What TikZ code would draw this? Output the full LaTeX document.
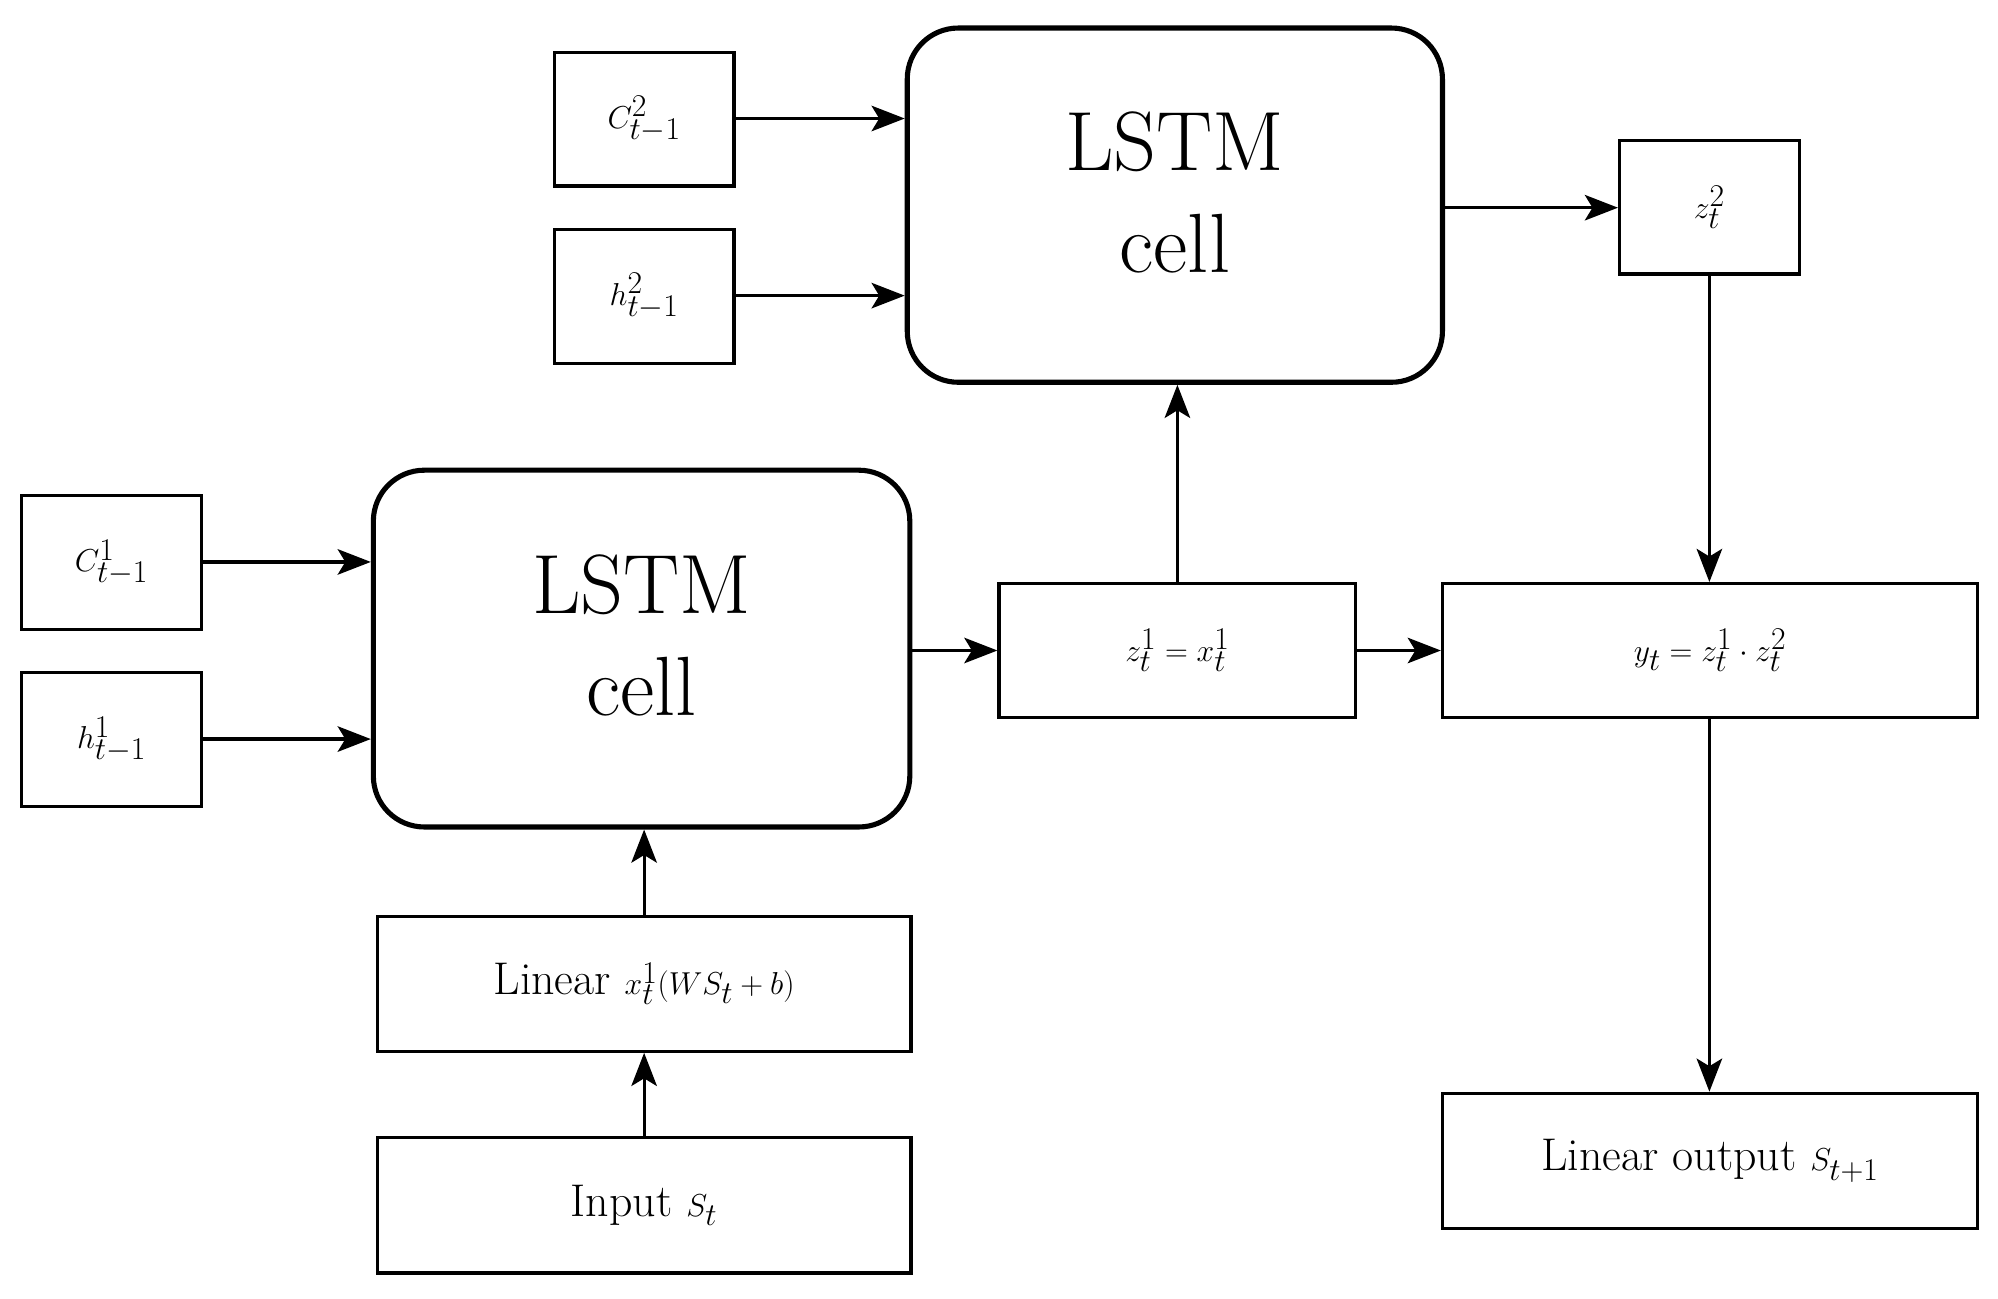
\documentclass[tikz,border=0pt]{standalone}
\usetikzlibrary{arrows.meta,calc}
\begin{document}
\begin{tikzpicture}[x=1pt,y=-1pt,
 box/.style={draw,line width=2.5pt,inner sep=0pt,font=\fontsize{36}{40}\selectfont},
 cell/.style={draw,line width=4pt,rounded corners=40pt,inner sep=0pt,align=center,font=\fontsize{66}{78}\selectfont},
 arr/.style={line width=2.5pt,-{Stealth[length=26pt,width=20pt,inset=6pt]}}]
\useasboundingbox (0,0) rectangle (1568,1019);
\newcommand{\bx}[6]{\node[#1,minimum width=#4-#2,minimum height=#5-#3] (#6) at ({(#2+#4)/2},{(#3+#5)/2}) {};}
\bx{box}{435}{41}{576}{146}{c2}
\bx{box}{435}{180}{576}{285}{h2}
\bx{cell}{712}{22}{1132}{300}{l2}
\bx{box}{1271}{110}{1412}{215}{z2}
\bx{box}{17}{389}{158}{494}{c1}
\bx{box}{17}{528}{158}{633}{h1}
\bx{cell}{293}{369}{714}{649}{l1}
\bx{box}{784}{458}{1064}{563}{z1}
\bx{box}{1132}{458}{1552}{563}{y}
\bx{box}{296}{719}{715}{825}{lin}
\bx{box}{296}{893}{715}{999}{inp}
\bx{box}{1132}{858}{1552}{964}{out}
\begin{scope}[font=\fontsize{50}{56}\selectfont]
\node at (c2) {$C^2_{t-1}$};
\node at (h2) {$h^2_{t-1}$};
\node at (c1) {$C^1_{t-1}$};
\node at (h1) {$h^1_{t-1}$};
\node at (z2) {$z^2_t$};
\end{scope}
\node[align=center,font=\fontsize{66}{80}\selectfont] at ($(l2)+(0,-10)$) {LSTM\\cell};
\node[align=center,font=\fontsize{66}{80}\selectfont] at ($(l1)+(0,-10)$) {LSTM\\cell};
\node[font=\fontsize{40}{44}\selectfont] at (z1) {$z^1_t = x^1_t$};
\node[font=\fontsize{44}{48}\selectfont] at (y) {$y_t = z^1_t\cdot z^2_t$};
\node[font=\fontsize{36}{40}\selectfont] at (lin) {Linear $x^1_t(WS_t+b)$};
\node[font=\fontsize{36}{40}\selectfont] at (inp) {Input $S_t$};
\node[font=\fontsize{36}{40}\selectfont] at (out) {Linear output $S_{t+1}$};
\draw[arr] (c2.east|-0,93) -- (l2.west|-0,93);
\draw[arr] (h2.east|-0,232) -- (l2.west|-0,232);
\draw[arr] (l2.east|-0,163) -- (z2.west|-0,163);
\draw[arr] (z2.south) -- (y.north-|z2.south);
\draw[arr] (z1.north) -- (l2.south-|z1.north);
\draw[arr] (l1.east|-z1) -- (z1.west);
\draw[arr] (z1.east) -- (y.west);
\draw[arr] (c1.east|-0,441) -- (l1.west|-0,441);
\draw[arr] (h1.east|-0,580) -- (l1.west|-0,580);
\draw[arr] (lin.north) -- (l1.south-|lin.north);
\draw[arr] (inp.north) -- (lin.south);
\draw[arr] (y.south-|z2.south) -- (out.north-|z2.south);
\end{tikzpicture}
\end{document}
